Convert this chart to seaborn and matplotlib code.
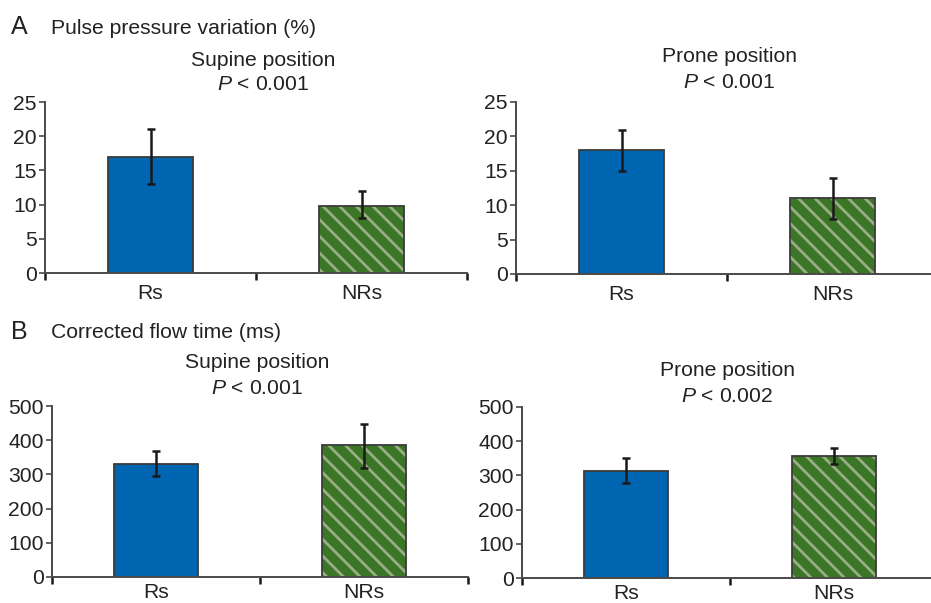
import numpy as np
import pandas as pd
import matplotlib
matplotlib.use("Agg")
import matplotlib.pyplot as plt
import seaborn as sns
from matplotlib.colors import to_rgba

# ---- data ----
groups = ["Rs", "NRs"]
ppv_supine = [17, 9.8]
ppv_supine_lo = [13, 8]
ppv_supine_hi = [21, 12]
ppv_prone = [18, 11]
ppv_prone_lo = [15, 8]
ppv_prone_hi = [21, 14]
cft_supine = [330, 386]
cft_supine_lo = [294, 320]
cft_supine_hi = [367, 448]
cft_prone = [313, 356]
cft_prone_lo = [278, 334]
cft_prone_hi = [351, 381]
ppv_ticks = [0, 5, 10, 15, 20, 25]
cft_ticks = [0, 100, 200, 300, 400, 500]

sns.set_theme(style="white")
plt.rcParams["font.family"] = ["Liberation Sans", "DejaVu Sans"]
plt.rcParams["mathtext.fontset"] = "custom"
plt.rcParams["mathtext.it"] = "Liberation Sans:italic"
plt.rcParams["mathtext.rm"] = "Liberation Sans"
plt.rcParams["hatch.linewidth"] = 2.0

BLUE = "#0066b2"
GREEN = "#3b7526"
STRIPE = "#9aae86"
AXC = "#4a4a4a"
TXT = "#222222"

fig = plt.figure(figsize=(9.31, 6.03), dpi=100)

W, H = 931, 603
def box(x0, x1, ytop, ybot):
    return [x0 / W, 1 - ybot / H, (x1 - x0) / W, (ybot - ytop) / H]

panels = [
    (box(45, 467, 102, 273), ppv_supine, ppv_supine_lo, ppv_supine_hi, ppv_ticks, 25, 8),
    (box(516, 938, 102, 274), ppv_prone, ppv_prone_lo, ppv_prone_hi, ppv_ticks, 25, 8),
    (box(52, 468, 406, 577), cft_supine, cft_supine_lo, cft_supine_hi, cft_ticks, 500, 4.5),
    (box(522, 938, 407, 578), cft_prone, cft_prone_lo, cft_prone_hi, cft_ticks, 500, 4),
]

fs = 15.2

for rect, vals, lo, hi, ticks, top, xpad in panels:
    ax = fig.add_axes(rect)
    df = pd.DataFrame({"group": groups, "value": vals})
    sns.barplot(data=df, x="group", y="value", hue="group",
                palette=[BLUE, GREEN], width=0.4, errorbar=None,
                legend=False, ax=ax, linewidth=1.3, edgecolor="#3a3a3a",
                saturation=1)
    p = ax.patches[1]
    p.set_hatch("\\\\")
    p._hatch_color = to_rgba(STRIPE)
    p.stale = True
    vals_a = np.array(vals, dtype=float)
    yerr = [vals_a - np.array(lo), np.array(hi) - vals_a]
    ax.errorbar(range(len(groups)), vals_a, yerr=yerr, fmt="none",
                ecolor="#1a1a1a", elinewidth=1.8, capsize=3.2, capthick=1.8,
                zorder=5)
    ax.set_xlim(-0.5, 1.5)
    ax.set_ylim(0, top)
    ax.set_yticks(ticks)
    ax.set_xlabel("")
    ax.set_ylabel("")
    ax.set_xticks([0, 1])
    ax.set_xticklabels(groups)
    ax.set_xticks([-0.5, 0.5, 1.5], minor=True)
    ax.tick_params(axis="x", which="major", length=0, pad=xpad, labelsize=fs,
                   labelcolor=TXT)
    ax.tick_params(axis="x", which="minor", length=5, width=1.8, color="#1a1a1a",
                   direction="out", bottom=True)
    ax.tick_params(axis="y", length=4, width=1.2, color=AXC, direction="out",
                   left=True, pad=2, labelsize=fs, labelcolor=TXT)
    for s in ["top", "right"]:
        ax.spines[s].set_visible(False)
    for s in ["left", "bottom"]:
        ax.spines[s].set_color(AXC)
        ax.spines[s].set_linewidth(1.4)
    ax.patch.set_alpha(0)

def ftext(x, y, s, **kw):
    fig.text(x / W, 1 - y / H, s, va="center", color=TXT, **kw)

ftext(11, 27, "A", fontsize=18)
ftext(51, 28, "Pulse pressure variation (%)", fontsize=fs)
ftext(263, 60, "Supine position", fontsize=fs, ha="center")
ftext(263, 85, r"$\it{P}$ < 0.001", fontsize=fs, ha="center")
ftext(729, 57, "Prone position", fontsize=fs, ha="center")
ftext(729, 82, r"$\it{P}$ < 0.001", fontsize=fs, ha="center")

ftext(11, 332, "B", fontsize=18)
ftext(51, 333, "Corrected flow time (ms)", fontsize=fs)
ftext(257, 363, "Supine position", fontsize=fs, ha="center")
ftext(257, 389, r"$\it{P}$ < 0.001", fontsize=fs, ha="center")
ftext(727, 371, "Prone position", fontsize=fs, ha="center")
ftext(727, 397, r"$\it{P}$ < 0.002", fontsize=fs, ha="center")

fig.savefig("out.png", dpi=100)
